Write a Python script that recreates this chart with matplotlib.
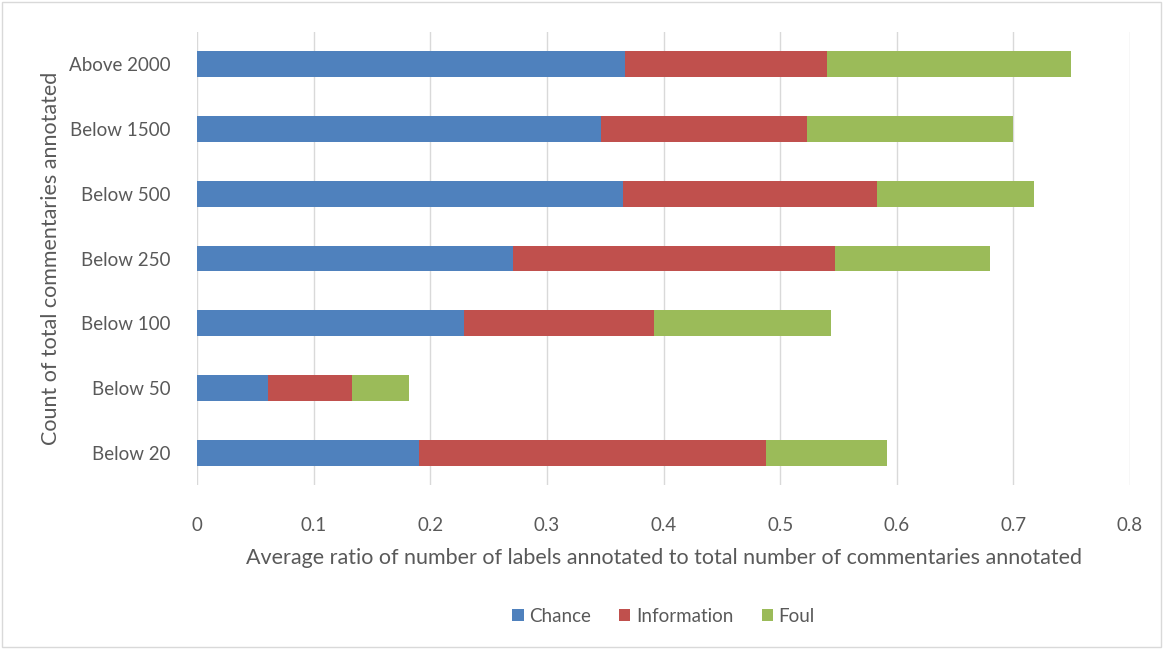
import numpy as np
import matplotlib.pyplot as plt
from matplotlib.patches import Rectangle

# categories (bottom to top) and segment widths
groups = ['Below 20', 'Below 50', 'Below 100', 'Below 250', 'Below 500', 'Below 1500', 'Above 2000']
chance = [0.190, 0.061, 0.229, 0.271, 0.365, 0.346, 0.367]
information = [0.298, 0.072, 0.163, 0.276, 0.218, 0.177, 0.173]
foul = [0.104, 0.049, 0.152, 0.133, 0.135, 0.177, 0.209]
xticks = [0, 0.1, 0.2, 0.3, 0.4, 0.5, 0.6, 0.7, 0.8]

plt.rcParams['font.family'] = ['Lato', 'DejaVu Sans']
txt = '#595959'

fig = plt.figure(figsize=(11.63, 6.49), dpi=100)
ax = fig.add_axes([197/1163, 1 - 485/649, (1130-197)/1163, (485-32)/649])

y = np.arange(len(groups))
left2 = np.array(chance) + np.array(information)
ax.barh(y, chance, height=0.4, color='#4F81BD', label='Chance', zorder=3)
ax.barh(y, information, left=chance, height=0.4, color='#C0504D', label='Information', zorder=3)
ax.barh(y, foul, left=left2, height=0.4, color='#9BBB59', label='Foul', zorder=3)

ax.set_xlim(0, 0.8)
ax.set_ylim(-0.5, 6.5)
ax.set_xticks(xticks)
ax.set_xticklabels([('%g' % v) for v in xticks])
ax.set_yticks(y)
ax.set_yticklabels(groups)
ax.grid(axis='x', color='#D9D9D9', linewidth=1, zorder=0)
for s in ax.spines.values():
    s.set_visible(False)
ax.tick_params(length=0, labelsize=13.5, colors=txt)
ax.tick_params(axis='x', pad=23)
ax.tick_params(axis='y', pad=19)

ax.set_xlabel('Average ratio of number of labels annotated to total number of commentaries annotated',
              fontsize=15.5, color=txt, labelpad=10)
ax.set_ylabel('Count of total commentaries annotated', fontsize=15.5, color=txt, labelpad=6)

ax.legend(loc='center', bbox_to_anchor=(0.5, -0.29), ncol=3, frameon=False,
          fontsize=13.5, labelcolor=txt, handlelength=0.6, handleheight=0.6,
          handletextpad=0.3, columnspacing=1.5)

fig.patches.append(Rectangle((0.002, 0.003), 0.996, 0.994, transform=fig.transFigure,
                             fill=False, edgecolor='#D9D9D9', linewidth=1))

plt.savefig('out.png', dpi=100)
